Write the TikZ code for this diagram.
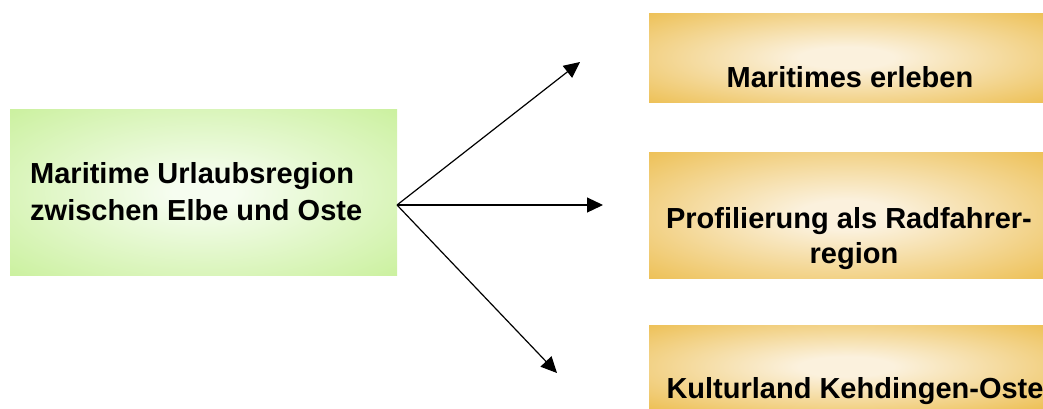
\documentclass[tikz,border=0pt]{standalone}
\usepackage{fontspec}
\setmainfont{Liberation Sans}
\usetikzlibrary{arrows.meta}
\definecolor{orangeedge}{HTML}{EDC055}
\definecolor{orangemid}{HTML}{FBF1DD}
\definecolor{greenedge}{HTML}{C9F09B}
\definecolor{greenmid}{HTML}{F6FDF0}
\pgfdeclareradialshading{orangeglow}{\pgfpoint{0bp}{0bp}}{color(0bp)=(orangemid); color(6bp)=(orangemid); color(36bp)=(orangeedge); color(100bp)=(orangeedge)}
\pgfdeclareradialshading{greenglow}{\pgfpoint{0bp}{0bp}}{color(0bp)=(greenmid); color(4bp)=(greenmid); color(37bp)=(greenedge); color(100bp)=(greenedge)}
\tikzset{
  orangebox/.style={shading=orangeglow},
  greenbox/.style={shading=greenglow},
  lbl/.style={font=\fontsize{29}{35}\selectfont\bfseries, inner sep=0pt, align=center},
  conn/.style={line width=1.2pt, -{Triangle[length=16pt,width=15pt]}}
}
\begin{document}
\begin{tikzpicture}[x=1pt,y=-1pt]
\useasboundingbox (0,0) rectangle (1043,408);
% green box
\shade[greenbox] (10,109) rectangle (397,275);
\node[lbl, align=left, anchor=base west] (g1) at (30,183) {Maritime Urlaubsregion};
\node[lbl, align=left, anchor=base west] (g2) at (30,220) {zwischen Elbe und Oste};
\coordinate (src) at (397,205);
% orange boxes
\shade[orangebox] (649,13) rectangle (1043,102);
\shade[orangebox] (649,152) rectangle (1043,278);
\shade[orangebox] (649,325) rectangle (1043,408);
\node[lbl, anchor=base] (o1) at (850,87) {Maritimes erleben};
\node[lbl, anchor=base] (o2a) at (849,228) {Profilierung als Radfahrer-};
\node[lbl, anchor=base] (o2b) at (854,263) {region};
\node[lbl, anchor=base] (o3) at (855,398) {Kulturland Kehdingen-Oste};
% arrow ends
\coordinate (t1) at (580,62);
\coordinate (t2) at (603,205);
\coordinate (t3) at (557,373);
\draw[conn] (src) -- (t1);
\draw[conn] (src) -- (t2);
\draw[conn] (src) -- (t3);
\end{tikzpicture}
\end{document}
